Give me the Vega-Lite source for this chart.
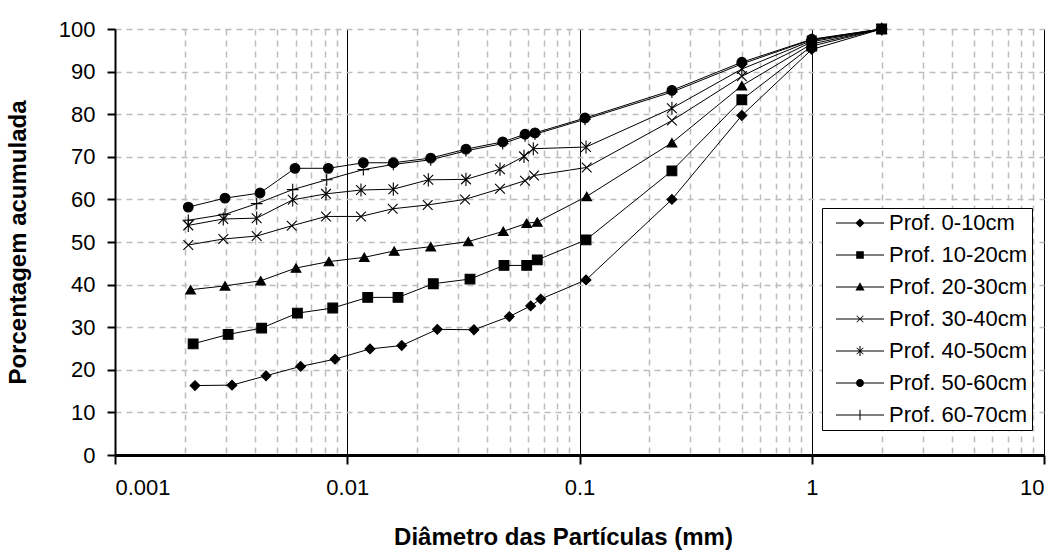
{
  "$schema": "https://vega.github.io/schema/vega-lite/v6.json",
  "width": 929,
  "height": 426,
  "autosize": {"type": "none"},
  "padding": {"left": 115, "top": 29, "right": 15, "bottom": 96},
  "background": "white",
  "config": {
    "view": {"stroke": null},
    "font": "Liberation Sans",
    "axis": {"labelFont": "Liberation Sans", "titleFont": "Liberation Sans", "labelColor": "black", "titleColor": "black"}
  },
  "data": {
    "values": [
      {"s": "Prof. 0-10cm", "d": 0.00221, "p": 16.3},
      {"s": "Prof. 0-10cm", "d": 0.00319, "p": 16.4},
      {"s": "Prof. 0-10cm", "d": 0.00447, "p": 18.6},
      {"s": "Prof. 0-10cm", "d": 0.0063, "p": 20.8},
      {"s": "Prof. 0-10cm", "d": 0.00886, "p": 22.5},
      {"s": "Prof. 0-10cm", "d": 0.01253, "p": 24.9},
      {"s": "Prof. 0-10cm", "d": 0.01716, "p": 25.7},
      {"s": "Prof. 0-10cm", "d": 0.02442, "p": 29.5},
      {"s": "Prof. 0-10cm", "d": 0.03513, "p": 29.4},
      {"s": "Prof. 0-10cm", "d": 0.04985, "p": 32.5},
      {"s": "Prof. 0-10cm", "d": 0.06163, "p": 35},
      {"s": "Prof. 0-10cm", "d": 0.06806, "p": 36.6},
      {"s": "Prof. 0-10cm", "d": 0.1067, "p": 41.1},
      {"s": "Prof. 0-10cm", "d": 0.25, "p": 60},
      {"s": "Prof. 0-10cm", "d": 0.5, "p": 79.7},
      {"s": "Prof. 0-10cm", "d": 1, "p": 95.2},
      {"s": "Prof. 0-10cm", "d": 2, "p": 100},
      {"s": "Prof. 10-20cm", "d": 0.00217, "p": 26.1},
      {"s": "Prof. 10-20cm", "d": 0.00307, "p": 28.3},
      {"s": "Prof. 10-20cm", "d": 0.00428, "p": 29.8},
      {"s": "Prof. 10-20cm", "d": 0.0061, "p": 33.3},
      {"s": "Prof. 10-20cm", "d": 0.00866, "p": 34.5},
      {"s": "Prof. 10-20cm", "d": 0.01225, "p": 37},
      {"s": "Prof. 10-20cm", "d": 0.01654, "p": 37},
      {"s": "Prof. 10-20cm", "d": 0.02347, "p": 40.2},
      {"s": "Prof. 10-20cm", "d": 0.03377, "p": 41.3},
      {"s": "Prof. 10-20cm", "d": 0.04731, "p": 44.5},
      {"s": "Prof. 10-20cm", "d": 0.05925, "p": 44.5},
      {"s": "Prof. 10-20cm", "d": 0.0658, "p": 45.8},
      {"s": "Prof. 10-20cm", "d": 0.1067, "p": 50.5},
      {"s": "Prof. 10-20cm", "d": 0.25, "p": 66.7},
      {"s": "Prof. 10-20cm", "d": 0.5, "p": 83.4},
      {"s": "Prof. 10-20cm", "d": 1, "p": 96},
      {"s": "Prof. 10-20cm", "d": 2, "p": 100},
      {"s": "Prof. 20-30cm", "d": 0.002116, "p": 38.8},
      {"s": "Prof. 20-30cm", "d": 0.002976, "p": 39.7},
      {"s": "Prof. 20-30cm", "d": 0.00424, "p": 40.9},
      {"s": "Prof. 20-30cm", "d": 0.006016, "p": 43.9},
      {"s": "Prof. 20-30cm", "d": 0.008344, "p": 45.4},
      {"s": "Prof. 20-30cm", "d": 0.01184, "p": 46.4},
      {"s": "Prof. 20-30cm", "d": 0.01593, "p": 47.9},
      {"s": "Prof. 20-30cm", "d": 0.02288, "p": 48.9},
      {"s": "Prof. 20-30cm", "d": 0.0332, "p": 50.1},
      {"s": "Prof. 20-30cm", "d": 0.04698, "p": 52.5},
      {"s": "Prof. 20-30cm", "d": 0.05925, "p": 54.4},
      {"s": "Prof. 20-30cm", "d": 0.0658, "p": 54.7},
      {"s": "Prof. 20-30cm", "d": 0.1074, "p": 60.7},
      {"s": "Prof. 20-30cm", "d": 0.25, "p": 73.3},
      {"s": "Prof. 20-30cm", "d": 0.5, "p": 86.7},
      {"s": "Prof. 20-30cm", "d": 1, "p": 96.5},
      {"s": "Prof. 20-30cm", "d": 2, "p": 100},
      {"s": "Prof. 30-40cm", "d": 0.002068, "p": 49.3},
      {"s": "Prof. 30-40cm", "d": 0.002926, "p": 50.7},
      {"s": "Prof. 30-40cm", "d": 0.004074, "p": 51.4},
      {"s": "Prof. 30-40cm", "d": 0.005766, "p": 53.8},
      {"s": "Prof. 30-40cm", "d": 0.008101, "p": 56},
      {"s": "Prof. 30-40cm", "d": 0.01146, "p": 56},
      {"s": "Prof. 30-40cm", "d": 0.01569, "p": 57.8},
      {"s": "Prof. 30-40cm", "d": 0.0222, "p": 58.7},
      {"s": "Prof. 30-40cm", "d": 0.03214, "p": 60},
      {"s": "Prof. 30-40cm", "d": 0.04547, "p": 62.5},
      {"s": "Prof. 30-40cm", "d": 0.05826, "p": 64.4},
      {"s": "Prof. 30-40cm", "d": 0.0637, "p": 65.6},
      {"s": "Prof. 30-40cm", "d": 0.1074, "p": 67.5},
      {"s": "Prof. 30-40cm", "d": 0.25, "p": 78.5},
      {"s": "Prof. 30-40cm", "d": 0.5, "p": 88.9},
      {"s": "Prof. 30-40cm", "d": 1, "p": 97},
      {"s": "Prof. 30-40cm", "d": 2, "p": 100},
      {"s": "Prof. 40-50cm", "d": 0.002068, "p": 53.9},
      {"s": "Prof. 40-50cm", "d": 0.002926, "p": 55.4},
      {"s": "Prof. 40-50cm", "d": 0.004074, "p": 55.6},
      {"s": "Prof. 40-50cm", "d": 0.005823, "p": 59.9},
      {"s": "Prof. 40-50cm", "d": 0.008101, "p": 61.3},
      {"s": "Prof. 40-50cm", "d": 0.01146, "p": 62.2},
      {"s": "Prof. 40-50cm", "d": 0.01579, "p": 62.4},
      {"s": "Prof. 40-50cm", "d": 0.02234, "p": 64.6},
      {"s": "Prof. 40-50cm", "d": 0.03245, "p": 64.7},
      {"s": "Prof. 40-50cm", "d": 0.04547, "p": 67.1},
      {"s": "Prof. 40-50cm", "d": 0.05768, "p": 70.1},
      {"s": "Prof. 40-50cm", "d": 0.06326, "p": 71.9},
      {"s": "Prof. 40-50cm", "d": 0.1067, "p": 72.3},
      {"s": "Prof. 40-50cm", "d": 0.25, "p": 81.4},
      {"s": "Prof. 40-50cm", "d": 0.5, "p": 90.6},
      {"s": "Prof. 40-50cm", "d": 1, "p": 97.3},
      {"s": "Prof. 40-50cm", "d": 2, "p": 100},
      {"s": "Prof. 50-60cm", "d": 0.002068, "p": 58.2},
      {"s": "Prof. 50-60cm", "d": 0.002976, "p": 60.3},
      {"s": "Prof. 50-60cm", "d": 0.004211, "p": 61.5},
      {"s": "Prof. 50-60cm", "d": 0.005957, "p": 67.3},
      {"s": "Prof. 50-60cm", "d": 0.008286, "p": 67.3},
      {"s": "Prof. 50-60cm", "d": 0.01173, "p": 68.6},
      {"s": "Prof. 50-60cm", "d": 0.01579, "p": 68.6},
      {"s": "Prof. 50-60cm", "d": 0.02288, "p": 69.7},
      {"s": "Prof. 50-60cm", "d": 0.03245, "p": 71.8},
      {"s": "Prof. 50-60cm", "d": 0.0467, "p": 73.5},
      {"s": "Prof. 50-60cm", "d": 0.0583, "p": 75.3},
      {"s": "Prof. 50-60cm", "d": 0.0643, "p": 75.6},
      {"s": "Prof. 50-60cm", "d": 0.1056, "p": 79.1},
      {"s": "Prof. 50-60cm", "d": 0.25, "p": 85.6},
      {"s": "Prof. 50-60cm", "d": 0.5, "p": 92.2},
      {"s": "Prof. 50-60cm", "d": 1, "p": 97.6},
      {"s": "Prof. 50-60cm", "d": 2, "p": 100},
      {"s": "Prof. 60-70cm", "d": 0.002068, "p": 55.1},
      {"s": "Prof. 60-70cm", "d": 0.002976, "p": 56.5},
      {"s": "Prof. 60-70cm", "d": 0.004074, "p": 59},
      {"s": "Prof. 60-70cm", "d": 0.005823, "p": 62.3},
      {"s": "Prof. 60-70cm", "d": 0.008157, "p": 64.6},
      {"s": "Prof. 60-70cm", "d": 0.01173, "p": 67},
      {"s": "Prof. 60-70cm", "d": 0.01579, "p": 68.2},
      {"s": "Prof. 60-70cm", "d": 0.02288, "p": 69.3},
      {"s": "Prof. 60-70cm", "d": 0.03245, "p": 71.4},
      {"s": "Prof. 60-70cm", "d": 0.0467, "p": 73.1},
      {"s": "Prof. 60-70cm", "d": 0.0583, "p": 74.9},
      {"s": "Prof. 60-70cm", "d": 0.0643, "p": 75.3},
      {"s": "Prof. 60-70cm", "d": 0.1056, "p": 78.8},
      {"s": "Prof. 60-70cm", "d": 0.25, "p": 85.2},
      {"s": "Prof. 60-70cm", "d": 0.5, "p": 91.8},
      {"s": "Prof. 60-70cm", "d": 1, "p": 97.5},
      {"s": "Prof. 60-70cm", "d": 2, "p": 100}
    ]
  },
  "resolve": {"axis": {"x": "independent"}, "scale": {"shape": "independent"}, "legend": {"shape": "independent"}},
  "layer": [
    {
      "mark": {"type": "line", "color": "black", "strokeWidth": 1},
      "encoding": {
        "x": {
          "field": "d", "type": "quantitative",
          "scale": {"type": "log", "domain": [0.001, 10], "nice": false},
          "axis": {
            "orient": "bottom",
            "values": [0.002, 0.003, 0.004, 0.005, 0.006, 0.007, 0.008, 0.009, 0.02, 0.03, 0.04, 0.05, 0.06, 0.07, 0.08, 0.09, 0.2, 0.3, 0.4, 0.5, 0.6, 0.7, 0.8, 0.9, 2, 3, 4, 5, 6, 7, 8, 9],
            "grid": true, "gridColor": "#bdbdbd", "gridDash": [6, 5], "gridWidth": 1.5,
            "labels": false, "ticks": false, "domain": false, "title": null
          }
        },
        "y": {
          "field": "p", "type": "quantitative",
          "scale": {"domain": [0, 100], "nice": false},
          "axis": {
            "values": [0, 10, 20, 30, 40, 50, 60, 70, 80, 90, 100],
            "grid": true, "gridColor": "#bdbdbd", "gridDash": [6, 5], "gridWidth": 1.5,
            "domainColor": "black", "domainWidth": 2,
            "tickColor": "black", "tickWidth": 2, "tickSize": 8,
            "labelFontSize": 22, "labelPadding": 12,
            "title": "Porcentagem acumulada", "titleFontSize": 24, "titleFontWeight": "bold", "titlePadding": 28
          }
        },
        "detail": {"field": "s"}
      }
    },
    {
      "mark": {"type": "point", "filled": true, "color": "black", "stroke": "black", "strokeWidth": 1.1, "size": 95, "opacity": 1},
      "encoding": {
        "x": {
          "field": "d", "type": "quantitative",
          "axis": {
            "orient": "bottom",
            "values": [0.001, 0.01, 0.1, 1, 10],
            "format": "~g",
            "grid": true, "gridColor": "black", "gridWidth": 1, "gridDash": [],
            "domainColor": "black", "domainWidth": 3,
            "tickColor": "black", "tickWidth": 2, "tickSize": 9,
            "labelFontSize": 22, "labelPadding": 13,
            "title": "Diâmetro das Partículas (mm)", "titleFontSize": 24, "titleFontWeight": "bold", "titlePadding": 27, "titleX": 448
          }
        },
        "y": {"field": "p", "type": "quantitative"},
        "shape": {
          "field": "s", "type": "nominal",
          "scale": {
            "domain": ["Prof. 0-10cm", "Prof. 10-20cm", "Prof. 20-30cm", "Prof. 30-40cm", "Prof. 40-50cm", "Prof. 50-60cm", "Prof. 60-70cm"],
            "range": ["diamond", "square", "triangle-up", "M-1,-1L1,1M-1,1L1,-1", "M-1,-1L1,1M-1,1L1,-1M0,-1.35V1.35", "circle", "M0,-1.2V1.2M-1.2,0H1.2"]
          },
          "legend": null
        }
      }
    },
    {
      "mark": {"type": "point", "filled": true, "color": "black", "size": 64, "opacity": 0},
      "encoding": {
        "x": {"field": "d", "type": "quantitative", "axis": null},
        "y": {"field": "p", "type": "quantitative"},
        "shape": {
          "field": "s", "type": "nominal",
          "scale": {
            "domain": ["Prof. 0-10cm", "Prof. 10-20cm", "Prof. 20-30cm", "Prof. 30-40cm", "Prof. 40-50cm", "Prof. 50-60cm", "Prof. 60-70cm"],
            "range": [
              "M-0.25,-0.13H11.75V0.13H-0.25ZM5.75,-1.15L6.9,0L5.75,1.15L4.6,0Z",
              "M-0.25,-0.13H11.75V0.13H-0.25ZM4.8,-0.95H6.7V0.95H4.8Z",
              "M-0.25,-0.13H11.75V0.13H-0.25ZM5.75,-1.2L6.9,0.85H4.6Z",
              "M-0.25,-0.13H11.75V0.13H-0.25ZM4.85,-0.75L5.0,-0.9L6.65,0.75L6.5,0.9ZM4.85,0.75L6.5,-0.9L6.65,-0.75L5.0,0.9Z",
              "M-0.25,-0.13H11.75V0.13H-0.25ZM4.85,-0.75L5.0,-0.9L6.65,0.75L6.5,0.9ZM4.85,0.75L6.5,-0.9L6.65,-0.75L5.0,0.9ZM5.62,-1.25H5.88V1.25H5.62Z",
              "M-0.25,-0.13H4.8V0.13H-0.25ZM6.7,-0.13H11.75V0.13H6.7ZM6.75,0A1,1 0 1,1 4.75,0A1,1 0 1,1 6.75,0Z",
              "M-0.25,-0.13H11.75V0.13H-0.25ZM5.62,-1.3H5.88V1.3H5.62Z"
            ]
          },
          "legend": {
            "title": null,
            "orient": "none", "legendX": 707, "legendY": 179,
            "padding": 4, "rowPadding": 10,
            "fillColor": "white", "strokeColor": "black",
            "labelFont": "Arial", "labelFontSize": 22, "labelColor": "black",
            "labelOffset": 41, "symbolSize": 64, "symbolOpacity": 1,
            "symbolFillColor": "black", "symbolStrokeColor": "black", "symbolStrokeWidth": 0
          }
        }
      }
    }
  ]
}
